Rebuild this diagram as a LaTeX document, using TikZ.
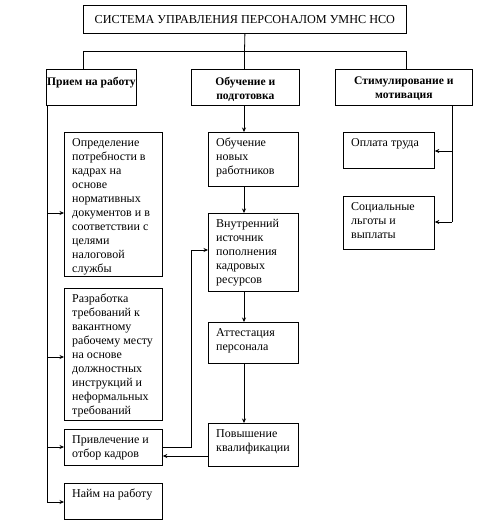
\documentclass[tikz,border=0pt]{standalone}
\usepackage{fontspec}
\setmainfont{Liberation Serif}
\usetikzlibrary{arrows.meta,positioning}
\begin{document}
\begin{tikzpicture}[x=1pt,y=-1pt,
  box/.style={draw, line width=0.8pt, inner sep=0pt, anchor=north west},
  txt/.style={inner sep=0pt, anchor=north west, align=left, font=\fontsize{12}{14}\selectfont},
  htxt/.style={inner sep=0pt, anchor=north, align=center, font=\bfseries\fontsize{11.6}{13.5}\selectfont},
  ln/.style={line width=0.8pt},
  arr/.style={line width=0.8pt, -{Stealth[length=4.5pt,width=4pt]}}]
\useasboundingbox (0,0) rectangle (480,525);
\fill[white] (0,0) rectangle (480,525);
% boxes
\node[box, minimum width=323pt, minimum height=28pt, font=\fontsize{12.2}{14}\selectfont] (top) at (83,5) {СИСТЕМА УПРАВЛЕНИЯ ПЕРСОНАЛОМ УМНС НСО};
\node[box, minimum width=90pt, minimum height=36pt] (h1) at (46,69) {};
\node[box, minimum width=108pt, minimum height=36pt] (h2) at (191,69) {};
\node[box, minimum width=137pt, minimum height=36pt] (h3) at (335,69) {};
\node[box, minimum width=98pt, minimum height=144pt] (b1) at (64,132) {};
\node[box, minimum width=98pt, minimum height=132pt] (b2) at (64,288) {};
\node[box, minimum width=98pt, minimum height=36pt] (b3) at (64,429) {};
\node[box, minimum width=98pt, minimum height=36pt] (b4) at (64,483) {};
\node[box, minimum width=90pt, minimum height=54pt] (m1) at (208,132) {};
\node[box, minimum width=90pt, minimum height=78pt] (m2) at (208,213) {};
\node[box, minimum width=90pt, minimum height=41pt] (m3) at (208,322) {};
\node[box, minimum width=90pt, minimum height=43pt] (m4) at (208,423) {};
\node[box, minimum width=91pt, minimum height=36pt] (r1) at (343,132) {};
\node[box, minimum width=91pt, minimum height=53pt] (r2) at (343,196) {};
% header texts
\node[htxt] (h1t) at ([yshift=-8pt]h1.north) {Прием на работу};
\node[htxt] (h2t) at ([yshift=-8pt]h2.north) {Обучение и\\подготовка};
\node[htxt] (h3t) at ([yshift=-8pt]h3.north) {Стимулирование и\\мотивация};
% body texts
\node[txt] (b1t) at ([xshift=8pt,yshift=-6pt]b1.north west) {Определение\\потребности в\\кадрах на\\основе\\нормативных\\документов и в\\соответствии с\\целями\\налоговой\\службы};
\node[txt] (b2t) at ([xshift=8pt,yshift=-6pt]b2.north west) {Разработка\\требований к\\вакантному\\рабочему месту\\на основе\\должностных\\инструкций и\\неформальных\\требований};
\node[txt] (b3t) at ([xshift=8pt,yshift=-6pt]b3.north west) {Привлечение и\\отбор кадров};
\node[txt] (b4t) at ([xshift=8pt,yshift=-6pt]b4.north west) {Найм на работу};
\node[txt] (m1t) at ([xshift=8pt,yshift=-6pt]m1.north west) {Обучение\\новых\\работников};
\node[txt] (m2t) at ([xshift=8pt,yshift=-6pt]m2.north west) {Внутренний\\источник\\пополнения\\кадровых\\ресурсов};
\node[txt] (m3t) at ([xshift=8pt,yshift=-6pt]m3.north west) {Аттестация\\персонала};
\node[txt] (m4t) at ([xshift=8pt,yshift=-6pt]m4.north west) {Повышение\\квалификации};
\node[txt] (r1t) at ([xshift=8pt,yshift=-6pt]r1.north west) {Оплата труда};
\node[txt] (r2t) at ([xshift=8pt,yshift=-6pt]r2.north west) {Социальные\\льготы и\\выплаты};
% top bus
\coordinate (bus) at (244.5,51);
\coordinate (busL) at (83,51);
\coordinate (busR) at (406,51);
\draw[ln] (top.south) -- (bus);
\draw[ln] (busL) -- (busR);
\draw[ln] (busL) -- (busL |- h1.north);
\draw[ln] (bus) -- (bus |- h2.north);
\draw[ln] (busR) -- (busR |- h3.north);
% left trunk
\coordinate (trunk) at (47,105);
\coordinate (a1) at (47,213);
\coordinate (a2) at (47,357);
\coordinate (a3) at (47,447);
\coordinate (a4) at (47,502);
\draw[ln] (trunk) -- (a4);
\draw[arr] (a1) -- (a1 -| b1.west);
\draw[arr] (a2) -- (a2 -| b2.west);
\draw[arr] (a3) -- (a3 -| b3.west);
\draw[arr] (a4) -- (a4 -| b4.west);
% middle chain
\coordinate (mx) at (244,0);
\draw[arr] (h2.south -| mx) -- (m1.north -| mx);
\draw[arr] (m1.south -| mx) -- (m2.north -| mx);
\draw[arr] (m2.south -| mx) -- (m3.north -| mx);
\draw[arr] (m3.south -| mx) -- (m4.north -| mx);
% right trunk
\coordinate (rtop) at (452,105);
\coordinate (ra1) at (452,151);
\coordinate (rbot) at (452,222);
\draw[ln] (rtop) -- (rbot);
\draw[arr] (ra1) -- (ra1 -| r1.east);
\draw[arr] (rbot) -- (rbot -| r2.east);
% feedback
\coordinate (f1) at (0,456);
\coordinate (f2) at (191,447);
\coordinate (f3) at (191,250);
\draw[arr] (m4.west |- f1) -- (b3.east |- f1);
\draw[arr] (b3.east |- f2) -- (f2) -- (f3) -- (f3 -| m2.west);
\end{tikzpicture}
\end{document}
